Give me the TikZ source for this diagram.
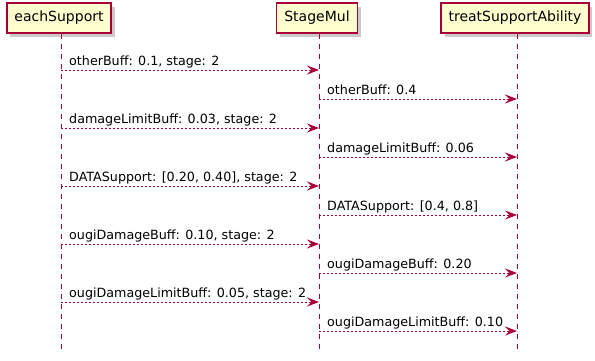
\documentclass[tikz,border=0pt]{standalone}
\usepackage{fontspec}
\setmainfont{DejaVu Sans}
\usetikzlibrary{arrows.meta,shadows}
\definecolor{umlred}{HTML}{A80036}
\definecolor{umlfill}{HTML}{FEFECE}

\begin{document}
\begin{tikzpicture}[
    x=1bp, y=-1bp,
    % participants
    participant/.style={draw=umlred, fill=umlfill, line width=1.2bp,
        minimum height=30bp, inner xsep=7.5bp, font=\fontsize{14bp}{16bp}\selectfont,
        drop shadow={shadow xshift=3.5bp, shadow yshift=-3.5bp, fill=black!35, opacity=0.6}},
    lifeline/.style={umlred, line width=1bp, dash pattern=on 5bp off 5bp},
    % messages
    message/.style={umlred, line width=1bp, dash pattern=on 2bp off 2bp,
        -{Stealth[length=12bp, width=9bp, inset=4.5bp]}},
    msg label/.style={anchor=base west, inner sep=0pt, text=black,
        font=\fontsize{12.7bp}{15bp}\selectfont}
]
\useasboundingbox (0,0) rectangle (595,360);

% participants and their lifelines
\node[participant] (each) at (59,18) {eachSupport};
\node[participant] (stage) at (317,18) {StageMul};
\node[participant] (treat) at (515,18) {treatSupportAbility};

\foreach \p in {each,stage,treat}{
    \coordinate (\p-top) at ([xshift=2bp]\p.south);
    \coordinate (\p-end) at (\p-top |- 0,350);
    \draw[lifeline] (\p-top) -- (\p-end);
}

% messages
\foreach \i/\y/\from/\to/\txt in {
    1/70/each/stage/{otherBuff: 0.1, stage: 2},
    2/99/stage/treat/{otherBuff: 0.4},
    3/128/each/stage/{damageLimitBuff: 0.03, stage: 2},
    4/157/stage/treat/{damageLimitBuff: 0.06},
    5/186/each/stage/{DATASupport: [0.20, 0.40], stage: 2},
    6/215/stage/treat/{DATASupport: [0.4, 0.8]},
    7/244/each/stage/{ougiDamageBuff: 0.10, stage: 2},
    8/273/stage/treat/{ougiDamageBuff: 0.20},
    9/302/each/stage/{ougiDamageLimitBuff: 0.05, stage: 2},
    10/331/stage/treat/{ougiDamageLimitBuff: 0.10}
}{
    \coordinate (src\i) at (\from-top |- 0,\y);
    \coordinate (dst\i) at (\to-top |- 0,\y);
    \draw[message] (src\i) -- (dst\i);
    \node[msg label] (lbl\i) at ([xshift=8bp, yshift=5bp]src\i) {\txt};
}

\end{tikzpicture}
\end{document}
